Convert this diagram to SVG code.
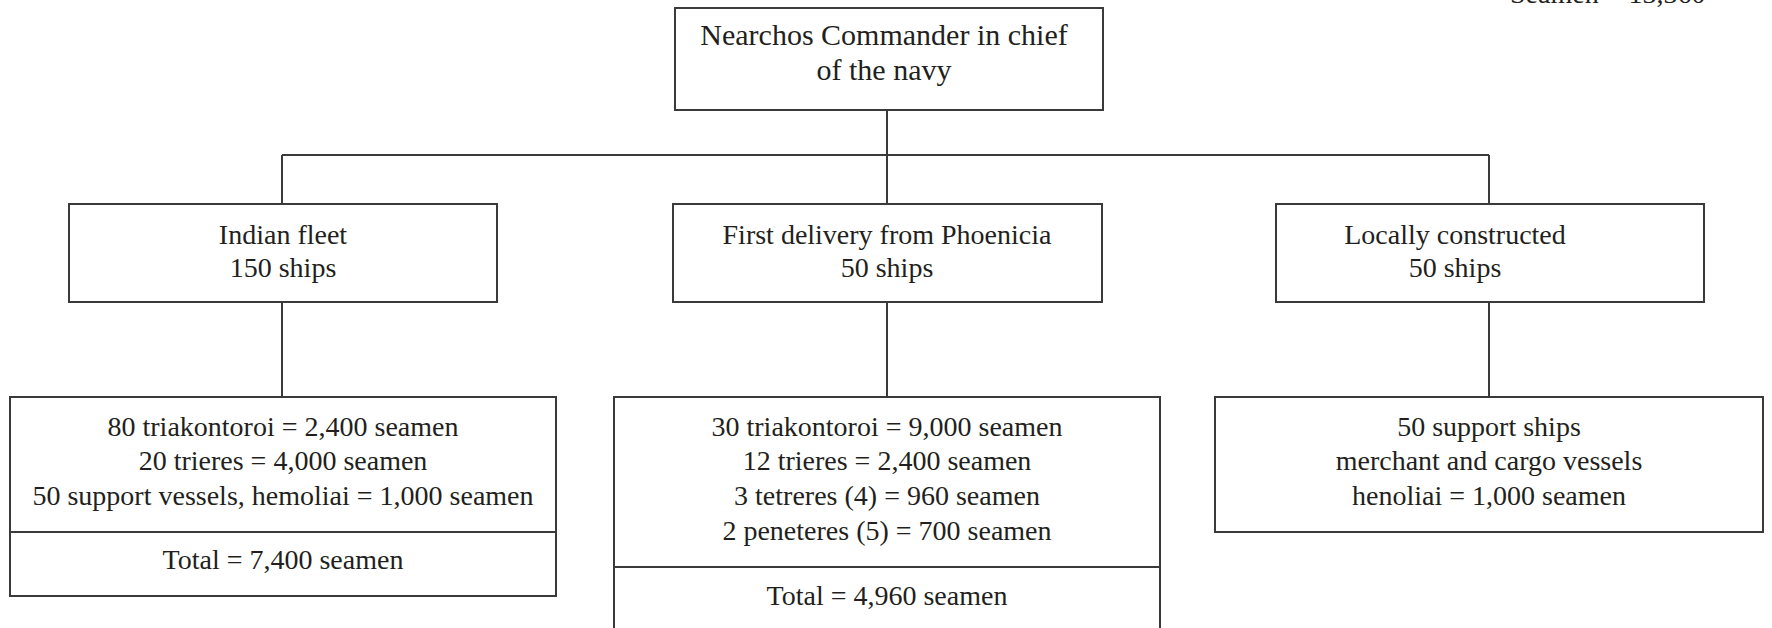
<svg xmlns="http://www.w3.org/2000/svg" width="1772" height="628" viewBox="0 0 1772 628">
<style>
.box{fill:#fff;stroke:#3a3a3a;stroke-width:2}
.div{stroke:#3a3a3a;stroke-width:2}
.con{fill:none;stroke:#3a3a3a;stroke-width:2}
text{font-family:"Liberation Serif","DejaVu Serif",serif;font-size:28px;fill:#231f20;text-anchor:middle}
.big{font-size:30px}
</style>
<rect width="1772" height="628" fill="#fff"/>
<g id="connectors">
<path class="con" d="M887 110 V155 M282 155 H1489 M282 155 V204 M887 155 V204 M1489 155 V204 M282 302 V397 M887 302 V397 M1489 302 V397"/>
</g>
<g id="total-note">
<text x="1510" y="3" style="text-anchor:start">Seamen = 13,360</text>
</g>
<g id="commander">
<rect class="box" x="675" y="8" width="428" height="102"/>
<text class="big" x="884" y="45">Nearchos Commander in chief</text>
<text class="big" x="884" y="80">of the navy</text>
</g>
<g id="indian-fleet">
<rect class="box" x="69" y="204" width="428" height="98"/>
<text x="283" y="244">Indian fleet</text>
<text x="283" y="277">150 ships</text>
</g>
<g id="phoenicia">
<rect class="box" x="673" y="204" width="429" height="98"/>
<text x="887" y="244">First delivery from Phoenicia</text>
<text x="887" y="277">50 ships</text>
</g>
<g id="local">
<rect class="box" x="1276" y="204" width="428" height="98"/>
<text x="1455" y="244">Locally constructed</text>
<text x="1455" y="277">50 ships</text>
</g>
<g id="indian-detail">
<rect class="box" x="10" y="397" width="546" height="199"/>
<line class="div" x1="10" y1="532" x2="556" y2="532"/>
<text x="283" y="436">80 triakontoroi = 2,400 seamen</text>
<text x="283" y="470">20 trieres = 4,000 seamen</text>
<text x="283" y="505">50 support vessels, hemoliai = 1,000 seamen</text>
<text x="283" y="569">Total = 7,400 seamen</text>
</g>
<g id="phoenicia-detail">
<rect class="box" x="614" y="397" width="546" height="250"/>
<line class="div" x1="614" y1="567" x2="1160" y2="567"/>
<text x="887" y="436">30 triakontoroi = 9,000 seamen</text>
<text x="887" y="470">12 trieres = 2,400 seamen</text>
<text x="887" y="505">3 tetreres (4) = 960 seamen</text>
<text x="887" y="540">2 peneteres (5) = 700 seamen</text>
<text x="887" y="605">Total = 4,960 seamen</text>
</g>
<g id="local-detail">
<rect class="box" x="1215" y="397" width="548" height="135"/>
<text x="1489" y="436">50 support ships</text>
<text x="1489" y="470">merchant and cargo vessels</text>
<text x="1489" y="505">henoliai = 1,000 seamen</text>
</g>
</svg>
